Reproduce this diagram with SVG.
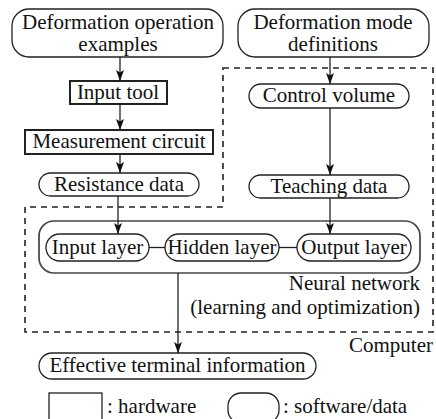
<svg xmlns="http://www.w3.org/2000/svg" width="436" height="419" viewBox="0 0 436 419">
<defs>
<style>
text{font-family:'Liberation Serif','Times New Roman',Times,serif;font-size:21px;fill:#111}
.mid{text-anchor:middle}
.end{text-anchor:end}
.soft{fill:#fff;stroke:#222;stroke-width:1.3}
.hard{fill:#fff;stroke:#222;stroke-width:2}
.cont{fill:none;stroke:#444;stroke-width:1.7}
.dash{fill:none;stroke:#222;stroke-width:1.6;stroke-dasharray:6,5}
.line{fill:none;stroke:#222;stroke-width:1.3}
</style>
<marker id="arr" viewBox="0 0 11 8" refX="11" refY="4" markerWidth="11" markerHeight="8" markerUnits="userSpaceOnUse" orient="auto">
<path d="M0,0 L11,4 L0,8 L2.5,4 z" fill="#111"/>
</marker>
</defs>
<g id="computer-boundary">
<path class="dash" d="M223,68 H433 V332 H25 V207 H223 Z"/>
<text class="end" x="433" y="352">Computer</text>
</g>
<g id="n-deform-ops">
<rect class="soft" x="12" y="9" width="211" height="48" rx="17"/>
<text class="mid" x="118" y="29">Deformation operation</text>
<text class="mid" x="118" y="51">examples</text>
</g>
<g id="n-deform-modes">
<rect class="soft" x="238" y="9" width="191" height="48" rx="17"/>
<text class="mid" x="333" y="29">Deformation mode</text>
<text class="mid" x="333" y="51">definitions</text>
</g>
<g id="n-input-tool">
<rect class="hard" x="70" y="81" width="97" height="23"/>
<text class="mid" x="118" y="99">Input tool</text>
</g>
<g id="n-measurement">
<rect class="hard" x="25" y="130" width="188" height="24"/>
<text class="mid" x="119" y="148">Measurement circuit</text>
</g>
<g id="n-resistance">
<rect class="soft" x="39" y="173" width="160" height="23" rx="11.5"/>
<text class="mid" x="119" y="191">Resistance data</text>
</g>
<g id="n-control">
<rect class="soft" x="249" y="84" width="160" height="24" rx="12"/>
<text class="mid" x="329" y="102">Control volume</text>
</g>
<g id="n-teaching">
<rect class="soft" x="249" y="175" width="160" height="23" rx="11.5"/>
<text class="mid" x="329" y="193">Teaching data</text>
</g>
<g id="n-neural-network">
<rect class="cont" x="39" y="221" width="381" height="52" rx="15"/>
<text class="end" x="420" y="290">Neural network</text>
<text class="end" x="420" y="314">(learning and optimization)</text>
</g>
<g id="n-input-layer">
<rect class="soft" x="46" y="234" width="103" height="27" rx="13.5"/>
<text class="mid" x="97.5" y="254">Input layer</text>
</g>
<g id="n-hidden-layer">
<rect class="soft" x="165" y="234" width="114" height="27" rx="13.5"/>
<text class="mid" x="222" y="254">Hidden layer</text>
</g>
<g id="n-output-layer">
<rect class="soft" x="297" y="234" width="114" height="27" rx="13.5"/>
<text class="mid" x="354" y="254">Output layer</text>
</g>
<g id="n-effective">
<rect class="soft" x="39" y="353" width="277" height="26" rx="13"/>
<text class="mid" x="177.5" y="372">Effective terminal information</text>
</g>
<g id="legend">
<rect class="soft" x="49" y="393" width="53" height="30"/>
<text x="107" y="413">: hardware</text>
<rect class="soft" x="228" y="393" width="51" height="30" rx="13"/>
<text x="283" y="413">: software/data</text>
</g>
<g id="connectors">
<line class="line" x1="120" y1="57" x2="120" y2="81" marker-end="url(#arr)"/>
<line class="line" x1="120" y1="104" x2="120" y2="130" marker-end="url(#arr)"/>
<line class="line" x1="120" y1="154" x2="120" y2="173" marker-end="url(#arr)"/>
<line class="line" x1="118" y1="196" x2="118" y2="234" marker-end="url(#arr)"/>
<line class="line" x1="330" y1="57" x2="330" y2="84" marker-end="url(#arr)"/>
<line class="line" x1="330" y1="108" x2="330" y2="175" marker-end="url(#arr)"/>
<line class="line" x1="330" y1="198" x2="330" y2="234" marker-end="url(#arr)"/>
<line class="line" x1="149" y1="247.5" x2="165" y2="247.5"/>
<line class="line" x1="279" y1="247.5" x2="297" y2="247.5"/>
<line class="line" x1="178" y1="273" x2="178" y2="353" marker-end="url(#arr)"/>
</g>
</svg>
